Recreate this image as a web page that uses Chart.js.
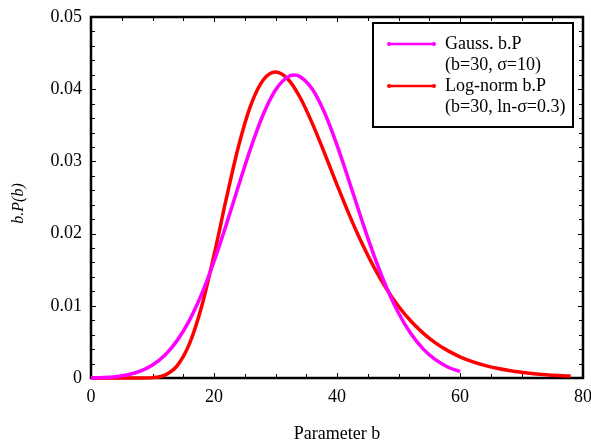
<!DOCTYPE html>
<html>
<head>
<meta charset="utf-8">
<script src="https://cdn.jsdelivr.net/npm/chart.js@4/dist/chart.umd.min.js"></script>
<style>
  html, body { margin: 0; padding: 0; background: #fff; }
  #wrap { width: 591px; height: 445px; }
</style>
</head>
<body>
<div id="wrap"><canvas id="c" width="591" height="445"></canvas></div>
<script>
// ---- data ----
const xTickValues = [0, 20, 40, 60, 80];
const yTickValues = [0, 0.01, 0.02, 0.03, 0.04, 0.05];
const xTickLabels = ['0', '20', '40', '60', '80'];
const yTickLabels = ['0', '0.01', '0.02', '0.03', '0.04', '0.05'];

const bGauss = [0, 2, 4, 6, 8, 10, 12, 14, 16, 18, 20, 22, 24, 26, 28, 30, 32, 33, 34, 36, 38, 40, 42, 44, 46, 48, 50, 52, 54, 56, 58, 60];
const gaussBP = [0, 0.000053, 0.000181, 0.000448, 0.000946, 0.00180, 0.003158, 0.005176, 0.007985, 0.011651,
  0.016131, 0.021244, 0.026657, 0.031917, 0.036497, 0.039894, 0.041711, 0.041952, 0.041737, 0.039986,
  0.036694, 0.032262, 0.027186, 0.021960, 0.017008, 0.012632, 0.008999, 0.006149, 0.004031, 0.002536,
  0.001530, 0.000886];

const bLogn = [0, 2, 4, 6, 8, 10, 12, 14, 16, 18, 20, 22, 24, 26, 28, 30, 32, 34, 36, 38, 40, 42, 44, 46, 48, 50,
  52, 54, 56, 58, 60, 62, 64, 66, 68, 70, 72, 74, 76, 78];
const lognBP = [0, 0, 0, 0, 0.000003, 0.000052, 0.000400, 0.001682, 0.004719, 0.009945, 0.017003, 0.024835,
  0.032138, 0.037823, 0.041274, 0.042380, 0.041411, 0.038848, 0.035233, 0.031070, 0.026759, 0.022596,
  0.018762, 0.015358, 0.012422, 0.009944, 0.007892, 0.006217, 0.004867, 0.003790, 0.002938, 0.002268,
  0.001746, 0.001340, 0.001027, 0.000785, 0.000600, 0.000458, 0.000349, 0.000266];

const seriesNames = ['Gauss. b.P', 'Log-norm b.P'];
const seriesNotes = ['(b=30, σ=10)', '(b=30, ln-σ=0.3)'];
const seriesColors = ['#FF00FF', '#FF0000'];
const yTitle = 'b.P(b)';
const xTitle = 'Parameter b';

const FONT = '"Liberation Serif", "Times New Roman", serif';

const toPoints = (xs, ys) => xs.map((x, i) => ({ x: x, y: ys[i] }));

const framePlugin = {
  id: 'frameTicks',
  beforeDatasetsDraw(chart) {
    const { ctx, chartArea: a, scales: { x, y } } = chart;
    ctx.save();
    ctx.strokeStyle = '#000';
    ctx.lineWidth = 1;
    ctx.beginPath();
    for (let v = 0; v <= 80; v += 5) {
      const px = Math.round(x.getPixelForValue(v)) + 0.5;
      const len = (v % 20 === 0) ? 5 : 4;
      ctx.moveTo(px, a.bottom); ctx.lineTo(px, a.bottom - len);
      ctx.moveTo(px, a.top); ctx.lineTo(px, a.top + len);
    }
    for (let k = 0; k <= 25; k++) {
      const v = k * 0.002;
      const py = Math.round(y.getPixelForValue(v)) + 0.5;
      const len = (k % 5 === 0) ? 5 : 4;
      ctx.moveTo(a.left, py); ctx.lineTo(a.left + len, py);
      ctx.moveTo(a.right, py); ctx.lineTo(a.right - len, py);
    }
    ctx.stroke();
    ctx.lineWidth = 2.5;
    ctx.strokeRect(a.left, a.top, a.right - a.left, a.bottom - a.top);
    ctx.restore();
  },
  afterDraw(chart) {
    const { ctx, chartArea: a } = chart;
    ctx.save();
    // y axis title
    ctx.fillStyle = '#000';
    ctx.font = 'italic 16px ' + FONT;
    ctx.textAlign = 'center';
    ctx.textBaseline = 'middle';
    ctx.translate(19, (a.top + a.bottom) / 2 + 6);
    ctx.rotate(-Math.PI / 2);
    ctx.fillText(yTitle, 0, 0);
    ctx.restore();

    ctx.save();
    // legend box
    ctx.fillStyle = '#fff';
    ctx.fillRect(373, 23, 200, 104);
    ctx.strokeStyle = '#000';
    ctx.lineWidth = 2;
    ctx.strokeRect(373, 23, 200, 104);
    const rows = [44, 86];
    ctx.font = '18px ' + FONT;
    ctx.textBaseline = 'middle';
    ctx.textAlign = 'left';
    rows.forEach((ry, i) => {
      ctx.strokeStyle = seriesColors[i];
      ctx.fillStyle = seriesColors[i];
      ctx.lineWidth = 2.5;
      ctx.beginPath();
      ctx.moveTo(389, ry); ctx.lineTo(434, ry);
      ctx.stroke();
      [389, 434].forEach(px => { ctx.beginPath(); ctx.arc(px, ry, 2, 0, Math.PI * 2); ctx.fill(); });
      ctx.fillStyle = '#000';
      ctx.fillText(seriesNames[i], 445, ry);
      ctx.fillText(seriesNotes[i], 445, ry + 21);
    });
    ctx.restore();
  }
};

new Chart(document.getElementById('c'), {
  type: 'line',
  data: {
    datasets: [
      { label: seriesNames[0], data: toPoints(bGauss, gaussBP), borderColor: seriesColors[0], borderWidth: 3.5,
        pointRadius: 0, cubicInterpolationMode: 'monotone', fill: false, clip: false },
      { label: seriesNames[1], data: toPoints(bLogn, lognBP), borderColor: seriesColors[1], borderWidth: 3.5,
        pointRadius: 0, cubicInterpolationMode: 'monotone', fill: false, clip: false }
    ]
  },
  options: {
    responsive: false,
    animation: false,
    devicePixelRatio: 1,
    layout: { padding: { top: 17, right: 8, left: 0, bottom: 0 } },
    plugins: { legend: { display: false }, tooltip: { enabled: false } },
    scales: {
      x: {
        type: 'linear', min: 0, max: 80,
        afterBuildTicks: s => { s.ticks = xTickValues.map(v => ({ value: v })); },
        afterFit: s => { s.height = 67; s.paddingLeft = 0; s.paddingRight = 0; },
        grid: { display: false, drawTicks: false },
        border: { display: false },
        ticks: { color: '#000', font: { family: FONT, size: 18 }, padding: 8, maxRotation: 0,
          callback: (v, i) => xTickLabels[xTickValues.indexOf(v)] },
        title: { display: true, text: xTitle, color: '#000', font: { family: FONT, size: 18 },
          padding: { top: 0, bottom: 0 } }
      },
      y: {
        type: 'linear', min: 0, max: 0.05,
        afterBuildTicks: s => { s.ticks = yTickValues.map(v => ({ value: v })); },
        afterFit: s => { s.width = 91; s.paddingTop = 0; s.paddingBottom = 0; },
        grid: { display: false, drawTicks: false },
        border: { display: false },
        ticks: { color: '#000', font: { family: FONT, size: 18 }, padding: 9,
          callback: (v) => yTickLabels[yTickValues.indexOf(v)] },
        title: { display: false }
      }
    }
  },
  plugins: [framePlugin]
});
</script>
</body>
</html>
